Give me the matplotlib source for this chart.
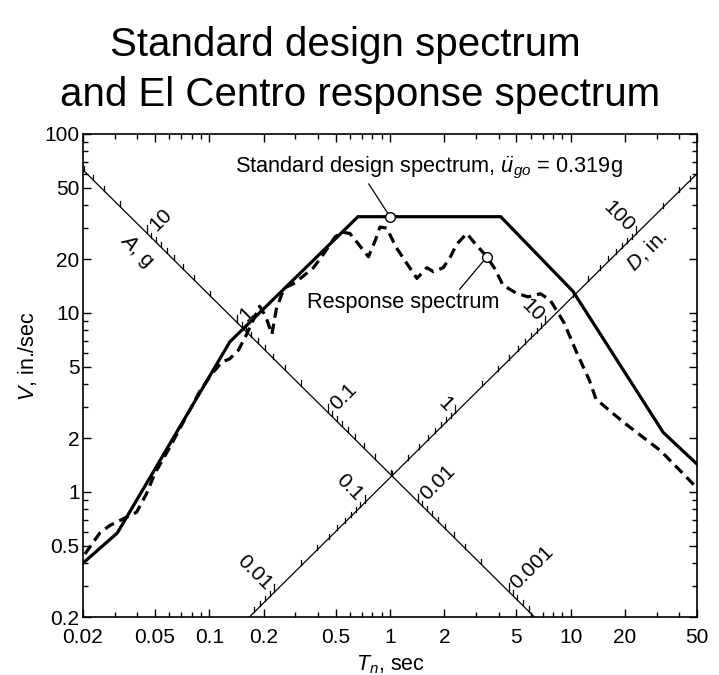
#!/usr/bin/env python3
"""
Tripartite plot: standard design spectrum vs El Centro response spectrum.
Writes out.png
"""

import numpy as np
import matplotlib
matplotlib.use("Agg")
import matplotlib.pyplot as plt
from matplotlib.ticker import FixedLocator, FixedFormatter, LogLocator, NullFormatter

plt.rcParams["font.family"] = ["Liberation Sans", "DejaVu Sans"]
plt.rcParams["mathtext.fontset"] = "custom"
plt.rcParams["mathtext.rm"] = "Liberation Sans"
plt.rcParams["mathtext.it"] = "Liberation Sans:italic"

# ---- data ----
design_T = [0.02, 0.031, 0.13, 0.665, 4.1, 10.3, 32.5, 50]
design_V = [0.4, 0.59, 6.9, 34.5, 34.5, 13.2, 2.15, 1.43]

resp_T = [0.0205, 0.0248, 0.0282, 0.0327, 0.0396, 0.045, 0.049, 0.0511, 0.06,
          0.0785, 0.0886, 0.103, 0.117, 0.13, 0.145, 0.161, 0.19, 0.205, 0.222,
          0.235, 0.256, 0.265, 0.298, 0.317, 0.377, 0.428, 0.497, 0.54, 0.60,
          0.67, 0.76, 0.83, 0.88, 0.96, 1.08, 1.24, 1.41, 1.6, 1.74, 1.97, 2.16,
          2.34, 2.66, 2.99, 3.44, 3.81, 4.22, 5.0, 5.8, 6.8, 7.7, 9.2, 10.8,
          12.7, 13.8, 19.6, 31.4, 43.4, 50]
resp_V = [0.45, 0.59, 0.65, 0.70, 0.77, 0.98, 1.21, 1.32, 1.75,
          2.9, 3.65, 4.55, 5.3, 5.55, 6.2, 7.6, 10.9, 9.6, 7.6,
          10.5, 13.3, 13.9, 14.7, 15.5, 17.9, 21.3, 26.6, 28.3, 27.8,
          24.2, 20.6, 25.5, 30.2, 29.8, 23.3, 18.9, 15.6, 17.9, 17.0, 17.9, 20.6,
          24.2, 27.8, 24.1, 20.6, 17.6, 14.3, 12.9, 12.3, 12.8, 11.8, 8.8, 6.0,
          4.2, 3.3, 2.45, 1.7, 1.22, 1.05]

x_major = [0.02, 0.05, 0.1, 0.2, 0.5, 1, 2, 5, 10, 20, 50]
x_labels = ["0.02", "0.05", "0.1", "0.2", "0.5", "1", "2", "5", "10", "20", "50"]
y_major = [0.2, 0.5, 1, 2, 5, 10, 20, 50, 100]
y_labels = ["0.2", "0.5", "1", "2", "5", "10", "20", "50", "100"]

acc_labels = [10, 1, 0.1, 0.01, 0.001]       # g
disp_labels = [0.01, 0.1, 1, 10, 100]         # in.

design_mark = (1.0, 34.5)
resp_mark = (3.44, 20.6)

G = 386.1          # in/s^2
C_A = 1.26         # V*T along the A axis line
C_D = 1.20         # V/T along the D axis line
XLIM = (0.02, 50)
YLIM = (0.2, 100)


def decade_values(lo, hi):
    out = []
    for k in range(-5, 4):
        for s in range(1, 10):
            v = s * 10.0 ** k
            if lo <= v <= hi:
                out.append((v, s == 1))
    return out


def main():
    fig = plt.figure(figsize=(7.19, 6.75), dpi=100)
    ax = fig.add_axes([0.1154, 0.0859, 0.8540, 0.7156])
    ax.set_xscale("log")
    ax.set_yscale("log")
    ax.set_xlim(*XLIM)
    ax.set_ylim(*YLIM)

    px_per_dec = fig.get_figheight() * fig.dpi * 0.7156 / np.log10(YLIM[1] / YLIM[0])

    # diagonal A axis (constant V*T)
    t0, t1 = XLIM[0], C_A / YLIM[0]
    ax.plot([t0, t1], [C_A / t0, C_A / t1], color="black", lw=0.9, zorder=2)
    a_lo = YLIM[0] ** 2 * 2 * np.pi / (C_A * G)
    a_hi = (C_A / XLIM[0]) ** 2 * 2 * np.pi / (C_A * G)
    for a, major in decade_values(a_lo, a_hi):
        v = np.sqrt(C_A * a * G / (2 * np.pi))
        t = C_A / v
        fac = 10 ** ((8 if major else 5) / px_per_dec)
        ax.plot([t, t], [v, v * fac], color="black", lw=0.9, zorder=2)
    for a in acc_labels:
        v = np.sqrt(C_A * a * G / (2 * np.pi))
        t = C_A / v
        ax.annotate("%g" % a, xy=(t, v), xytext=(5, 5), textcoords="offset pixels",
                    rotation=45, rotation_mode="anchor", ha="left", va="center",
                    fontsize=15)
    ta = 0.0472
    ax.annotate("$A$, g", xy=(ta, C_A / ta), xytext=(-14, -14),
                textcoords="offset pixels", rotation=-45, rotation_mode="anchor",
                ha="center", va="center", fontsize=15)

    # diagonal D axis (constant V/T)
    t0, t1 = YLIM[0] / C_D, XLIM[1]
    ax.plot([t0, t1], [C_D * t0, C_D * t1], color="black", lw=0.9, zorder=2)
    d_lo = YLIM[0] ** 2 / (2 * np.pi * C_D)
    d_hi = (C_D * XLIM[1]) ** 2 / (2 * np.pi * C_D)
    for d, major in decade_values(d_lo, d_hi):
        v = np.sqrt(2 * np.pi * d * C_D)
        t = v / C_D
        fac = 10 ** ((8 if major else 5) / px_per_dec)
        ax.plot([t, t], [v, v * fac], color="black", lw=0.9, zorder=2)
    for d in disp_labels:
        v = np.sqrt(2 * np.pi * d * C_D)
        t = v / C_D
        ax.annotate("%g" % d, xy=(t, v), xytext=(-5, 5), textcoords="offset pixels",
                    rotation=-45, rotation_mode="anchor", ha="right", va="center",
                    fontsize=15)
    td = 22.2
    ax.annotate("$D$, in.", xy=(td, C_D * td), xytext=(14, -14),
                textcoords="offset pixels", rotation=45, rotation_mode="anchor",
                ha="center", va="center", fontsize=15)

    # spectra
    ax.plot(design_T, design_V, color="black", lw=2.3, solid_joinstyle="miter", zorder=4)
    ax.plot(resp_T, resp_V, color="black", lw=2.3, dashes=(3.2, 1.9), zorder=4)
    ax.plot(*design_mark, "o", ms=7, mfc="white", mec="black", mew=1.0, zorder=5)
    ax.plot(*resp_mark, "o", ms=7, mfc="white", mec="black", mew=1.0, zorder=5)

    ax.annotate("Standard design spectrum, $\\ddot{u}_{go}$ = 0.319g",
                xy=design_mark, xytext=(0.139, 64.6), textcoords="data",
                ha="left", va="center", fontsize=15.7,
                arrowprops=dict(arrowstyle="-", lw=0.9, color="black",
                                shrinkA=0, shrinkB=3.5,
                                relpos=(0.34, 0.0)))
    ax.annotate("Response spectrum", xy=resp_mark, xytext=(0.348, 11.4),
                textcoords="data", ha="left", va="center", fontsize=15.7,
                arrowprops=dict(arrowstyle="-", lw=0.9, color="black",
                                shrinkA=0, shrinkB=3.5, relpos=(0.78, 1.0)))

    # axes ticks
    ax.xaxis.set_major_locator(FixedLocator(x_major))
    ax.xaxis.set_major_formatter(FixedFormatter(x_labels))
    ax.xaxis.set_minor_locator(LogLocator(base=10, subs=np.arange(1, 10)))
    ax.xaxis.set_minor_formatter(NullFormatter())
    ax.yaxis.set_major_locator(FixedLocator(y_major))
    ax.yaxis.set_major_formatter(FixedFormatter(y_labels))
    ax.yaxis.set_minor_locator(LogLocator(base=10, subs=np.arange(1, 10)))
    ax.yaxis.set_minor_formatter(NullFormatter())
    ax.tick_params(which="both", direction="in", top=True, right=True, width=1.0,
                   labelsize=15)
    ax.tick_params(axis="x", which="both", pad=8)
    ax.tick_params(axis="y", which="both", pad=2.5)
    ax.tick_params(which="major", length=6)
    ax.tick_params(which="minor", length=3.5)
    for sp in ax.spines.values():
        sp.set_linewidth(1.2)

    ax.set_xlabel("$T_n$, sec", fontsize=15.5)
    ax.set_ylabel("$V$, in./sec", fontsize=15.5)
    ax.xaxis.set_label_coords(0.5, -0.075)
    ax.yaxis.set_label_coords(-0.072, 0.54)

    fig.text(110 / 719, 1 - 45 / 675, "Standard design spectrum", fontsize=29,
             ha="left", va="center")
    fig.text(60 / 719, 1 - 95 / 675, "and El Centro response spectrum", fontsize=29,
             ha="left", va="center")

    fig.savefig("out.png", dpi=100)
    plt.close(fig)


if __name__ == "__main__":
    main()
